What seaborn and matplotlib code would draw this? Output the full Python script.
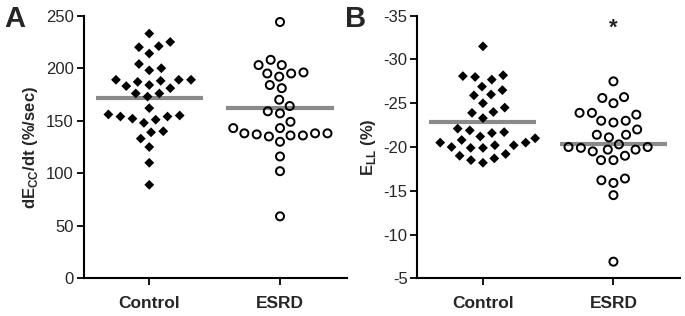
import numpy as np
import pandas as pd
import matplotlib
matplotlib.use('Agg')
import matplotlib.pyplot as plt
from matplotlib.path import Path
import seaborn as sns

# values
groups = ['Control', 'ESRD']
ctrl_decc = [233, 221, 220, 225, 214, 204, 198, 200, 187, 189, 189, 189, 188, 183, 181, 184,
             176, 173, 176, 162, 154, 154, 151, 155, 156, 152, 148, 140, 139, 133, 125, 110, 89]
esrd_decc = [244, 208, 203, 203, 196, 195, 192, 195, 184, 181, 170, 164, 159, 157, 149, 143,
             143, 138, 138, 136, 138, 135, 136, 137, 130, 116, 102, 59]
ctrl_ell = [-31.5, -28.2, -28.0, -28.1, -27.7, -26.9, -26.5, -26.0, -25.9, -25.0, -24.5, -24.0,
            -23.9, -23.3, -21.9, -21.6, -21.7, -22.1, -21.2, -21.0, -20.5, -20.5, -20.2, -20.2,
            -20.0, -20.8, -19.9, -19.9, -19.2, -18.7, -18.2, -18.5, -19.0]
esrd_ell = [-27.5, -25.7, -25.6, -25.0, -23.9, -23.9, -23.7, -22.8, -23.0, -23.0, -22.0, -21.4,
            -21.1, -21.4, -20.3, -20.0, -20.0, -19.7, -19.5, -19.7, -19.9, -19.0, -18.5, -18.5,
            -16.4, -15.9, -16.2, -14.5, -6.9]
mean_decc = [172, 162]
mean_ell = [-22.8, -20.4]

sns.set_style('ticks')
plt.rcParams['font.family'] = ['Liberation Sans', 'DejaVu Sans']
plt.rcParams['axes.unicode_minus'] = False
plt.rcParams['mathtext.fontset'] = 'custom'
plt.rcParams['mathtext.rm'] = 'Liberation Sans'
plt.rcParams['mathtext.bf'] = 'Liberation Sans:bold'

# open circle drawn as a filled ring, so the edge width only widens the swarm
t = np.linspace(0, 2 * np.pi, 60)
outer = np.column_stack([np.cos(t), np.sin(t)])
inner = 0.6 * outer[::-1]
codes = ([Path.MOVETO] + [Path.LINETO] * 58 + [Path.CLOSEPOLY]) * 2
ring = Path(np.concatenate([outer, inner]), codes)

fig = plt.figure(figsize=(6.85, 3.16), dpi=100)
axA = fig.add_axes([0.1219, 0.1193, 0.3842, 0.831])
axB = fig.add_axes([0.6092, 0.1193, 0.3835, 0.831])


def panel(ax, ctrl, esrd, means):
    df = pd.DataFrame({'group': ['Control'] * len(ctrl) + ['ESRD'] * len(esrd),
                       'val': ctrl + esrd})
    sns.swarmplot(data=df[df.group == 'Control'], x='group', y='val', order=groups,
                  marker='D', size=5.0, color='black', edgecolor='none', linewidth=3.4,
                  ax=ax, zorder=3)
    sns.swarmplot(data=df[df.group == 'ESRD'], x='group', y='val', order=groups,
                  marker=ring, size=7.2, color='black', edgecolor='none', linewidth=1.3,
                  ax=ax, zorder=3)
    for c in ax.collections:
        c.set_edgecolor('none')
    for i, m in enumerate(means):
        ax.hlines(m, i - 0.41, i + 0.41, color='#8a8a8a', lw=3, zorder=2)
    ax.set_xlim(-0.503, 1.51)
    ax.set_xlabel('')
    sns.despine(ax=ax)
    for s in ['left', 'bottom']:
        ax.spines[s].set_linewidth(1.5)
        ax.spines[s].set_color('black')
    ax.tick_params(axis='both', direction='out', length=5, width=1.3, color='black')
    ax.tick_params(axis='y', labelsize=12, pad=2)
    ax.tick_params(axis='x', labelsize=12.5, pad=8)
    for lab in ax.get_xticklabels():
        lab.set_fontweight('bold')


panel(axA, ctrl_decc, esrd_decc, mean_decc)
axA.set_ylim(0, 250)
axA.set_yticks([0, 50, 100, 150, 200, 250])
axA.set_ylabel(r'dE$_{\mathbf{CC}}$/dt (%/sec)', fontsize=12, fontweight='bold', labelpad=4)

panel(axB, ctrl_ell, esrd_ell, mean_ell)
axB.set_ylim(-5, -35)
axB.set_yticks([-35, -30, -25, -20, -15, -10, -5])
axB.set_ylabel(r'E$_{\mathbf{LL}}$ (%)', fontsize=12, fontweight='bold', labelpad=4)
axB.text(1, -33.6, '*', ha='center', va='center', fontsize=16, fontweight='bold')

fig.text(0.006, 0.985, 'A', fontsize=21, fontweight='bold', va='top')
fig.text(0.503, 0.985, 'B', fontsize=21, fontweight='bold', va='top')

fig.savefig('out.png', dpi=100)
